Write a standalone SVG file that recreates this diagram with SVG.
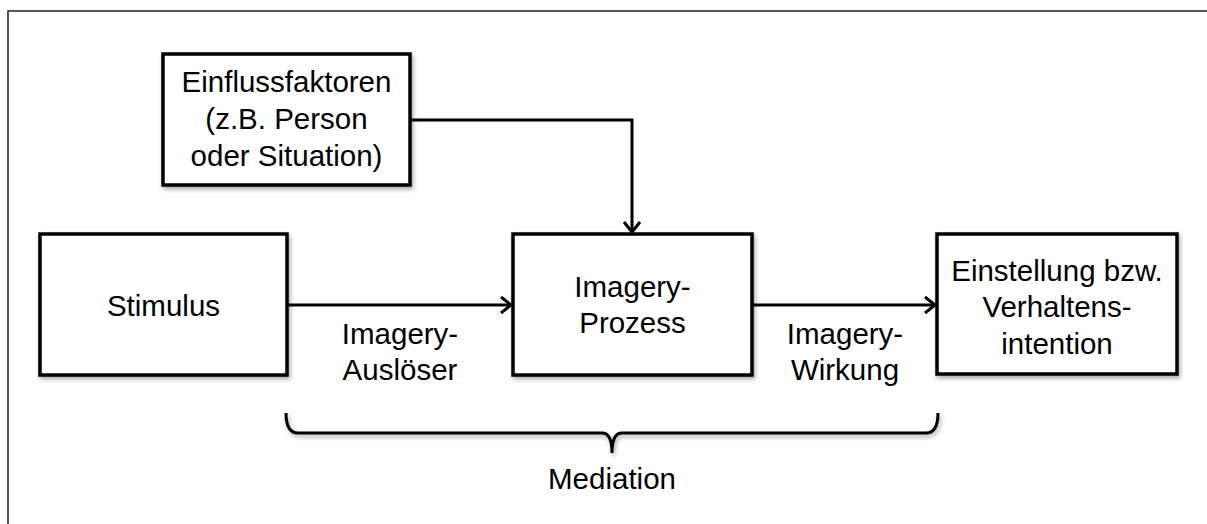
<svg xmlns="http://www.w3.org/2000/svg" width="1207" height="524" viewBox="0 0 1207 524">
<defs>
<filter id="sh" x="-10%" y="-10%" width="130%" height="130%">
<feDropShadow dx="1.5" dy="2.5" stdDeviation="2" flood-color="#000" flood-opacity="0.35"/>
</filter>
<marker id="arr" markerUnits="userSpaceOnUse" markerWidth="20" markerHeight="20" refX="13" refY="10" orient="auto">
<path d="M3,2 L13,10 L3,18" fill="none" stroke="#000" stroke-width="3" stroke-linejoin="miter"/>
</marker>
</defs>
<style>
.box{fill:#fff;stroke:#000;stroke-width:3.5;filter:url(#sh)}
.t{font-family:"Liberation Sans",Arial,sans-serif;font-size:29.5px;fill:#000;text-anchor:middle}
.c{fill:none;stroke:#000;stroke-width:3}
</style>
<rect width="1207" height="524" fill="#fff"/>
<path d="M8,524 L8,11 L1207,11" fill="none" stroke="#222" stroke-width="1.5"/>
<g id="einfluss">
<rect class="box" x="163" y="54" width="247" height="131"/>
<text class="t" x="286.5" y="92">Einflussfaktoren</text>
<text class="t" x="286.5" y="129">(z.B. Person</text>
<text class="t" x="286.5" y="166">oder Situation)</text>
</g>
<g id="stimulus">
<rect class="box" x="40" y="234" width="247" height="141"/>
<text class="t" x="163.5" y="316">Stimulus</text>
</g>
<g id="prozess">
<rect class="box" x="513" y="234" width="239" height="141"/>
<text class="t" x="632.5" y="297">Imagery-</text>
<text class="t" x="632.5" y="333">Prozess</text>
</g>
<g id="einstellung">
<rect class="box" x="937" y="234" width="240" height="140"/>
<text class="t" x="1057" y="281">Einstellung bzw.</text>
<text class="t" x="1057" y="317">Verhaltens-</text>
<text class="t" x="1057" y="354">intention</text>
</g>
<g id="connectors">
<path class="c" d="M410,120 L632,120 L632,232" marker-end="url(#arr)"/>
<path class="c" d="M287,305 L511,305" marker-end="url(#arr)"/>
<path class="c" d="M752,305 L935,305" marker-end="url(#arr)"/>
<path class="c" d="M286,413 Q286,433 298,433 L602,433 Q612,433 612,453 Q612,433 622,433 L926,433 Q938,433 938,413" filter="url(#sh)"/>
</g>
<g id="labels">
<text class="t" x="400" y="344">Imagery-</text>
<text class="t" x="400" y="380">Auslöser</text>
<text class="t" x="845" y="344">Imagery-</text>
<text class="t" x="845" y="380">Wirkung</text>
<text class="t" x="612" y="489">Mediation</text>
</g>
</svg>
